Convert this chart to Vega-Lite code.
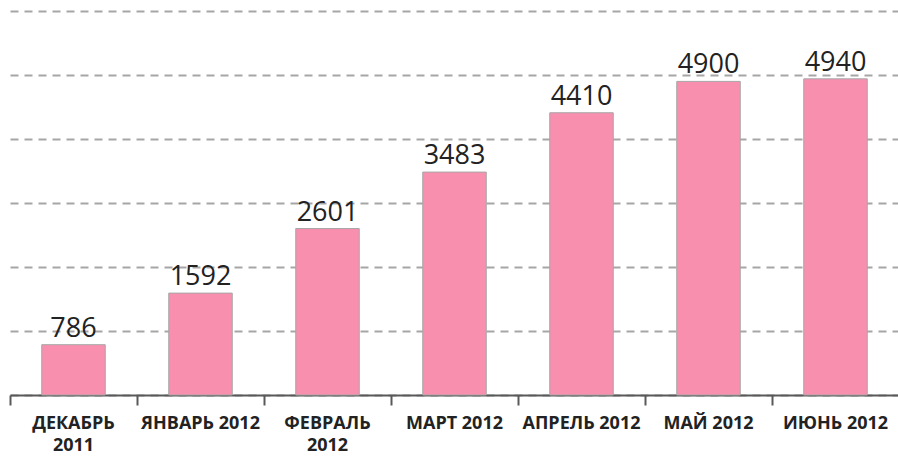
{
  "$schema": "https://vega.github.io/schema/vega-lite/v6.json",
  "autosize": "none",
  "width": 889,
  "height": 384,
  "padding": {"left": 10, "top": 11, "right": 0, "bottom": 62},
  "config": {"view": {"stroke": null}},
  "data": {
    "values": [
      {"month": "ДЕКАБРЬ 2011", "line1": "ДЕКАБРЬ", "line2": "2011", "value": 786},
      {"month": "ЯНВАРЬ 2012", "line1": "ЯНВАРЬ 2012", "line2": "", "value": 1592},
      {"month": "ФЕВРАЛЬ 2012", "line1": "ФЕВРАЛЬ", "line2": "2012", "value": 2601},
      {"month": "МАРТ 2012", "line1": "МАРТ 2012", "line2": "", "value": 3483},
      {"month": "АПРЕЛЬ 2012", "line1": "АПРЕЛЬ 2012", "line2": "", "value": 4410},
      {"month": "МАЙ 2012", "line1": "МАЙ 2012", "line2": "", "value": 4900},
      {"month": "ИЮНЬ 2012", "line1": "ИЮНЬ 2012", "line2": "", "value": 4940}
    ]
  },
  "encoding": {
    "x": {
      "field": "month",
      "type": "nominal",
      "sort": null,
      "scale": {"paddingInner": 0, "paddingOuter": 0},
      "axis": {
        "title": null,
        "labels": false,
        "tickBand": "extent",
        "domainColor": "#595959",
        "domainWidth": 2,
        "tickColor": "#595959",
        "tickWidth": 2,
        "tickSize": 10
      }
    },
    "y": {
      "field": "value",
      "type": "quantitative",
      "scale": {"domain": [0, 6000]},
      "axis": {
        "title": null,
        "domain": false,
        "ticks": false,
        "labels": false,
        "tickCount": 6,
        "grid": true,
        "gridColor": "#A6A6A6",
        "gridWidth": 2,
        "gridDash": [8, 6]
      }
    }
  },
  "layer": [
    {
      "mark": {"type": "bar", "width": {"band": 0.5}, "color": "#F98FAF", "stroke": "#A6A6A6", "strokeWidth": 1}
    },
    {
      "mark": {"type": "text", "baseline": "alphabetic", "dy": -8, "fontSize": 27, "font": "Open Sans", "color": "#222222"},
      "encoding": {"text": {"field": "value", "type": "quantitative", "format": "d"}}
    },
    {
      "mark": {"type": "text", "baseline": "alphabetic", "dy": 34, "fontSize": 18, "font": "Open Sans", "fontWeight": "bold", "color": "#222222"},
      "encoding": {"y": {"datum": 0}, "text": {"field": "line1"}}
    },
    {
      "mark": {"type": "text", "baseline": "alphabetic", "dy": 56, "fontSize": 18, "font": "Open Sans", "fontWeight": "bold", "color": "#222222"},
      "encoding": {"y": {"datum": 0}, "text": {"field": "line2"}}
    }
  ]
}
